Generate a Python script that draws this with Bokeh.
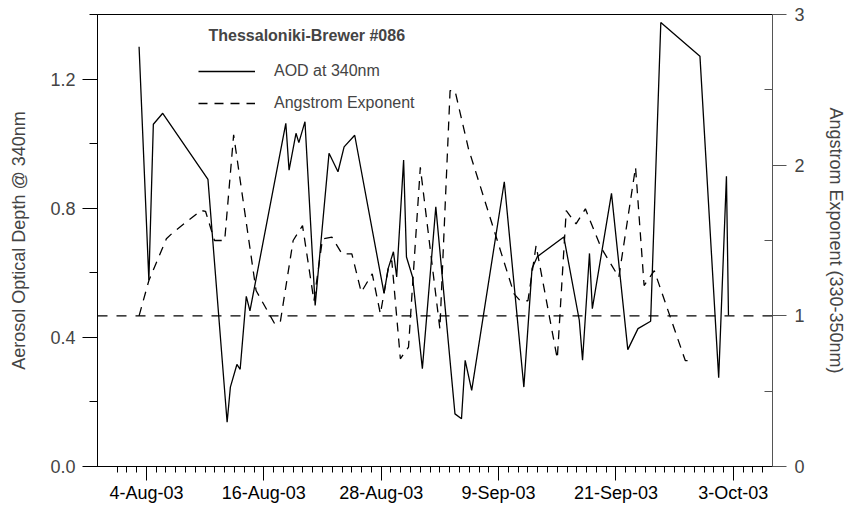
import pandas as pd
from bokeh.plotting import figure
from bokeh.models import (Range1d, LinearAxis, FixedTicker, Span, Legend, LegendItem, Label)
from bokeh.embed import file_html
from bokeh.resources import INLINE

# ---------------- data ----------------
aod_time = ["2003-08-03 06:00", "2003-08-04 06:00", "2003-08-04 17:00", "2003-08-05 16:00",
            "2003-08-10 07:00", "2003-08-12 06:00", "2003-08-12 14:00", "2003-08-13 06:00",
            "2003-08-13 14:00", "2003-08-14 05:00", "2003-08-14 14:00", "2003-08-18 06:00",
            "2003-08-18 14:00", "2003-08-19 07:00", "2003-08-19 14:00", "2003-08-20 05:00",
            "2003-08-21 06:00", "2003-08-22 16:00", "2003-08-23 14:00", "2003-08-24 05:00",
            "2003-08-25 07:00", "2003-08-28 07:00", "2003-08-28 17:00", "2003-08-29 06:00",
            "2003-08-29 14:00", "2003-08-30 07:00", "2003-08-30 14:00", "2003-08-31 05:00",
            "2003-09-01 05:00", "2003-09-02 14:00", "2003-09-04 13:00", "2003-09-05 05:00",
            "2003-09-05 14:00", "2003-09-06 06:00", "2003-09-09 14:00", "2003-09-11 14:00",
            "2003-09-12 10:00", "2003-09-12 23:00", "2003-09-15 16:00", "2003-09-17 06:00",
            "2003-09-17 14:00", "2003-09-18 07:00", "2003-09-18 14:00", "2003-09-20 13:00",
            "2003-09-22 05:00", "2003-09-23 06:00", "2003-09-24 13:00", "2003-09-25 14:00",
            "2003-09-29 14:00", "2003-10-01 12:00", "2003-10-02 07:00", "2003-10-02 12:00"]
aod_value = [1.30, 0.577, 1.06, 1.094,
             0.889, 0.137, 0.246, 0.316,
             0.301, 0.527, 0.482, 1.063,
             0.918, 1.032, 1.003, 1.068,
             0.499, 0.970, 0.913, 0.99,
             1.026, 0.536, 0.613, 0.665,
             0.587, 0.949, 0.649, 0.587,
             0.303, 0.804, 0.163, 0.148,
             0.329, 0.236, 0.882, 0.246,
             0.613, 0.65, 0.711, 0.453,
             0.329, 0.660, 0.489, 0.846,
             0.362, 0.427, 0.45, 1.375,
             1.271, 0.275, 0.899, 0.468]

ang_time = ["2003-08-03 06:00", "2003-08-04 06:00", "2003-08-06 01:00", "2003-08-06 18:00",
            "2003-08-09 14:00", "2003-08-10 01:00", "2003-08-10 23:00", "2003-08-12 00:00",
            "2003-08-12 22:00", "2003-08-15 05:00", "2003-08-16 13:00", "2003-08-17 02:00",
            "2003-08-17 16:00", "2003-08-19 00:00", "2003-08-19 23:00", "2003-08-21 03:00",
            "2003-08-22 00:00", "2003-08-22 23:00", "2003-08-24 00:00", "2003-08-25 00:00",
            "2003-08-25 23:00", "2003-08-27 02:00", "2003-08-27 22:00", "2003-08-28 18:00",
            "2003-08-29 02:00", "2003-08-29 23:00", "2003-08-30 19:00", "2003-09-01 00:00",
            "2003-09-03 00:00", "2003-09-04 01:00", "2003-09-04 13:00", "2003-09-05 22:00",
            "2003-09-10 14:00", "2003-09-11 05:00", "2003-09-12 00:00", "2003-09-12 20:00",
            "2003-09-15 00:00", "2003-09-15 22:00", "2003-09-16 22:00", "2003-09-17 21:00",
            "2003-09-19 11:00", "2003-09-21 07:00", "2003-09-23 00:00", "2003-09-23 21:00",
            "2003-09-24 22:00", "2003-09-28 02:00", "2003-09-28 23:00"]
ang_value = [1.0, 1.234, 1.511, 1.555,
             1.699, 1.694, 1.50, 1.50,
             2.201, 1.168, 1.013, 0.951,
             0.951, 1.50, 1.599, 1.10,
             1.511, 1.522, 1.411, 1.411,
             1.157, 1.279, 1.013, 1.323,
             1.367, 0.715, 0.792, 1.986,
             0.914, 2.495, 2.495, 2.11,
             1.146, 1.10, 1.10, 1.466,
             0.715, 1.699, 1.61, 1.71,
             1.455, 1.256, 1.986, 1.201,
             1.30, 0.703, 0.703]

ang_reference = 1.0

x_start, x_end = "2003-07-30", "2003-10-07"
major_dates = ["2003-08-04", "2003-08-16", "2003-08-28", "2003-09-09", "2003-09-21", "2003-10-03"]
major_labels = ["4-Aug-03", "16-Aug-03", "28-Aug-03", "9-Sep-03", "21-Sep-03", "3-Oct-03"]
minor_first, minor_last = "2003-08-01", "2003-10-06"

left_ticks = [0.0, 0.4, 0.8, 1.2]
left_minor = [0.2, 0.6, 1.0, 1.4]
right_ticks = [0, 1, 2, 3]
right_minor = [0.5, 1.5, 2.5]

title_text = "Thessaloniki-Brewer #086"
aod_label = "AOD at 340nm"
ang_label = "Angstrom Exponent"
left_title = "Aerosol Optical Depth @ 340nm"
right_title = "Angstrom Exponent (330-350nm)"


def ms(s):
    return pd.Timestamp(s).value / 1e6


FONT = "Liberation Sans"

p = figure(width=848, height=510, x_axis_type="datetime",
           x_range=Range1d(ms(x_start), ms(x_end)), y_range=Range1d(0, 1.4),
           output_backend="svg", toolbar_location=None,
           min_border_left=97, min_border_right=72, min_border_top=14, min_border_bottom=44)
p.extra_y_ranges = {"ang": Range1d(0, 3)}
p.xgrid.visible = False
p.ygrid.visible = False
p.outline_line_color = "black"
p.outline_line_width = 1
p.background_fill_color = "white"
p.border_fill_color = "white"

# x axis
xa = p.xaxis[0]
xa.ticker = FixedTicker(ticks=[ms(d) for d in major_dates],
                        minor_ticks=[ms(d) for d in pd.date_range(minor_first, minor_last, freq="D")])
xa.major_label_overrides = {ms(d): l for d, l in zip(major_dates, major_labels)}
xa.major_tick_out = 14
xa.major_tick_in = 0
xa.minor_tick_out = 6
xa.minor_tick_in = 0
xa.major_label_standoff = 2
xa.major_label_text_font = FONT
xa.major_label_text_font_size = "18px"
xa.major_label_text_color = "black"
xa.axis_line_color = "black"

# left y axis
ya = p.yaxis[0]
ya.ticker = FixedTicker(ticks=left_ticks, minor_ticks=left_minor)
ya.major_label_overrides = {v: f"{v:.1f}" for v in left_ticks}
ya.major_tick_out = 15
ya.major_tick_in = 0
ya.minor_tick_out = 8
ya.minor_tick_in = 0
ya.major_label_standoff = 7
ya.major_label_text_font = FONT
ya.major_label_text_font_size = "18px"
ya.axis_label = left_title
ya.axis_label_text_font = FONT
ya.axis_label_text_font_size = "18px"
ya.axis_label_text_font_style = "normal"
ya.axis_label_standoff = 18

# right y axis
ra = LinearAxis(y_range_name="ang")
ra.ticker = FixedTicker(ticks=right_ticks, minor_ticks=right_minor)
ra.major_tick_out = 14
ra.major_tick_in = 0
ra.minor_tick_out = 0
ra.minor_tick_in = 8
ra.major_label_standoff = 8
ra.major_label_text_font = FONT
ra.major_label_text_font_size = "18px"
ra.axis_label = right_title
ra.axis_label_text_font = FONT
ra.axis_label_text_font_size = "18px"
ra.axis_label_text_font_style = "normal"
ra.axis_label_standoff = 18
ra.axis_line_color = "#555555"
ra.major_tick_line_color = "#555555"
ra.minor_tick_line_color = "#555555"
p.add_layout(ra, "right")

# reference line at Angstrom exponent = 1
p.add_layout(Span(location=ang_reference, dimension="width", y_range_name="ang",
                  line_color="black", line_width=1.1, line_dash="10 9"))

aod_x = [pd.Timestamp(t) for t in aod_time]
ang_x = [pd.Timestamp(t) for t in ang_time]
r_aod = p.line(aod_x, aod_value, line_color="black", line_width=1.3)
r_ang = p.line(ang_x, ang_value, y_range_name="ang", line_color="black",
               line_width=1.3, line_dash="9 7")

legend = Legend(items=[LegendItem(label=aod_label, renderers=[r_aod]),
                       LegendItem(label=ang_label, renderers=[r_ang])],
                location=(101, 353), orientation="vertical",
                glyph_width=57, glyph_height=20, label_height=20, label_standoff=19,
                spacing=12, padding=0, margin=0,
                label_text_font=FONT, label_text_font_size="16px",
                border_line_color=None, background_fill_alpha=0)
p.add_layout(legend, "center")

p.add_layout(Label(x=111, y=431, x_units="screen", y_units="screen", text=title_text,
                   text_font=FONT, text_font_size="16px", text_font_style="bold",
                   text_baseline="middle", text_align="left"))

open("out.html", "w").write(file_html(p, INLINE))
